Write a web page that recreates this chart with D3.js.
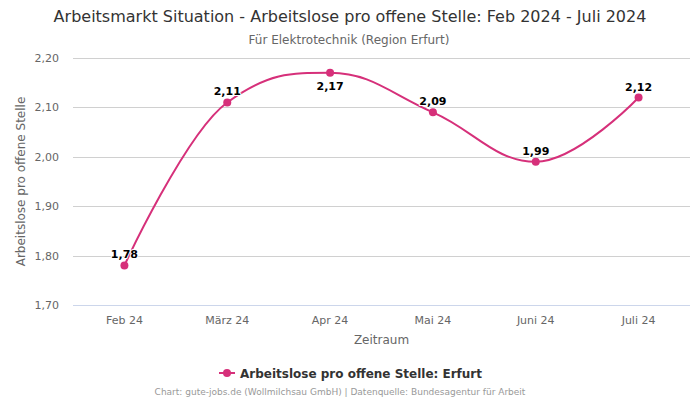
<!DOCTYPE html>
<html>
<head>
<meta charset="utf-8">
<script src="https://cdn.jsdelivr.net/npm/d3@7"></script>
<style>
  body { margin: 0; background: #fff; }
  svg { font-family: "DejaVu Sans", sans-serif; }
</style>
</head>
<body>
<div class="g-chart"></div>
<script>
const months = ["Feb 24", "März 24", "Apr 24", "Mai 24", "Juni 24", "Juli 24"];
const values = [1.78, 2.11, 2.17, 2.09, 1.99, 2.12];
const yTicks = [1.70, 1.80, 1.90, 2.00, 2.10, 2.20];
const belowLabel = ["Apr 24"];
const seriesName = "Arbeitslose pro offene Stelle: Erfurt";

const width = 700, height = 400;
const margin = {top: 58, right: 10, bottom: 95, left: 73};
const color = "#d6307a";
const fmt = v => v.toFixed(2).replace(".", ",");

const svg = d3.select(".g-chart").append("svg")
  .attr("width", width).attr("height", height);

const x = d3.scaleBand().domain(months).range([margin.left, width - margin.right]);
const y = d3.scaleLinear().domain([1.70, 2.20]).range([height - margin.bottom, margin.top]);

// titles
svg.append("text").attr("x", 350).attr("y", 22).attr("text-anchor", "middle")
  .style("font-size", "16px").style("fill", "#333")
  .text("Arbeitsmarkt Situation - Arbeitslose pro offene Stelle: Feb 2024 - Juli 2024");
svg.append("text").attr("x", 349).attr("y", 44).attr("text-anchor", "middle")
  .style("font-size", "12px").style("fill", "#666")
  .text("Für Elektrotechnik (Region Erfurt)");

// grid
svg.append("g").selectAll("line").data(yTicks).join("line")
  .attr("x1", margin.left).attr("x2", width - margin.right)
  .attr("y1", d => Math.round(y(d)) + 0.5).attr("y2", d => Math.round(y(d)) + 0.5)
  .attr("stroke", (d, i) => i == 0 ? "#ccd6eb" : "#d0d0d0").attr("stroke-width", 1);

// y axis labels
svg.append("g").selectAll("text").data(yTicks).join("text")
  .attr("x", margin.left - 14).attr("y", d => y(d) + 4)
  .attr("text-anchor", "end").style("font-size", "11px").style("fill", "#666")
  .text(fmt);

svg.append("text")
  .attr("transform", "translate(25," + ((y(1.7) + y(2.2)) / 2) + ") rotate(-90)")
  .attr("text-anchor", "middle").style("font-size", "12px").style("fill", "#666")
  .text("Arbeitslose pro offene Stelle");

// x axis labels
svg.append("g").selectAll("text").data(months).join("text")
  .attr("x", d => x(d) + x.bandwidth() / 2).attr("y", y(1.7) + 19)
  .attr("text-anchor", "middle").style("font-size", "11px").style("fill", "#666")
  .text(d => d);

svg.append("text").attr("x", (margin.left + width - margin.right) / 2).attr("y", 344)
  .attr("text-anchor", "middle").style("font-size", "12px").style("fill", "#666")
  .text("Zeitraum");

// spline through points (smoothing like highcharts)
const pts = months.map((m, i) => ({m: m, v: values[i], px: x(m) + x.bandwidth() / 2, py: y(values[i])}));
function splinePath(p) {
  const sm = 1.5, den = sm + 1;
  const path = d3.path();
  p.forEach(function(d, i) {
    if (i == 0) { path.moveTo(d.px, d.py); return; }
    const last = p[i - 1], next = p[i + 1];
    let lcx = d.px, lcy = d.py;
    if (next) {
      lcx = (sm * d.px + last.px) / den;
      lcy = (sm * d.py + last.py) / den;
      let rcx = (sm * d.px + next.px) / den;
      let rcy = (sm * d.py + next.py) / den;
      let corr = 0;
      if (rcx != lcx) corr = ((rcy - lcy) * (rcx - d.px)) / (rcx - lcx) + d.py - rcy;
      lcy += corr; rcy += corr;
      if (lcy > last.py && lcy > d.py) { lcy = Math.max(last.py, d.py); rcy = 2 * d.py - lcy; }
      else if (lcy < last.py && lcy < d.py) { lcy = Math.min(last.py, d.py); rcy = 2 * d.py - lcy; }
      if (rcy > next.py && rcy > d.py) { rcy = Math.max(next.py, d.py); lcy = 2 * d.py - rcy; }
      else if (rcy < next.py && rcy < d.py) { rcy = Math.min(next.py, d.py); lcy = 2 * d.py - rcy; }
      d.rcx = rcx; d.rcy = rcy;
    }
    path.bezierCurveTo(last.rcx != null ? last.rcx : last.px, last.rcy != null ? last.rcy : last.py, lcx, lcy, d.px, d.py);
  });
  return path.toString();
}

svg.append("path").attr("d", splinePath(pts))
  .attr("fill", "none").attr("stroke", color).attr("stroke-width", 2);

svg.append("g").selectAll("circle").data(pts).join("circle")
  .attr("cx", d => d.px).attr("cy", d => d.py)
  .attr("r", 4).attr("fill", color);

svg.append("g").selectAll("text").data(pts).join("text")
  .attr("x", d => d.px)
  .attr("y", d => d.py + (belowLabel.includes(d.m) ? 17 : -7))
  .attr("text-anchor", "middle")
  .style("font-size", "11px").style("font-weight", "bold").style("fill", "#000")
  .style("paint-order", "stroke").style("stroke", "#fff").style("stroke-width", 2)
  .text(d => fmt(d.v));

// legend
const lg = svg.append("g").attr("transform", "translate(0,373)");
lg.append("line").attr("x1", 219).attr("x2", 235).attr("y1", 0).attr("y2", 0)
  .attr("stroke", color).attr("stroke-width", 2);
lg.append("circle").attr("cx", 227).attr("cy", 0).attr("r", 4).attr("fill", color);
lg.append("text").attr("x", 240).attr("y", 4.5)
  .style("font-size", "12px").style("font-weight", "bold").style("fill", "#333")
  .text(seriesName);

svg.append("text").attr("x", 340).attr("y", 395).attr("text-anchor", "middle")
  .style("font-size", "9px").style("fill", "#999")
  .text("Chart: gute-jobs.de (Wollmilchsau GmbH) | Datenquelle: Bundesagentur für Arbeit");
</script>
</body>
</html>
